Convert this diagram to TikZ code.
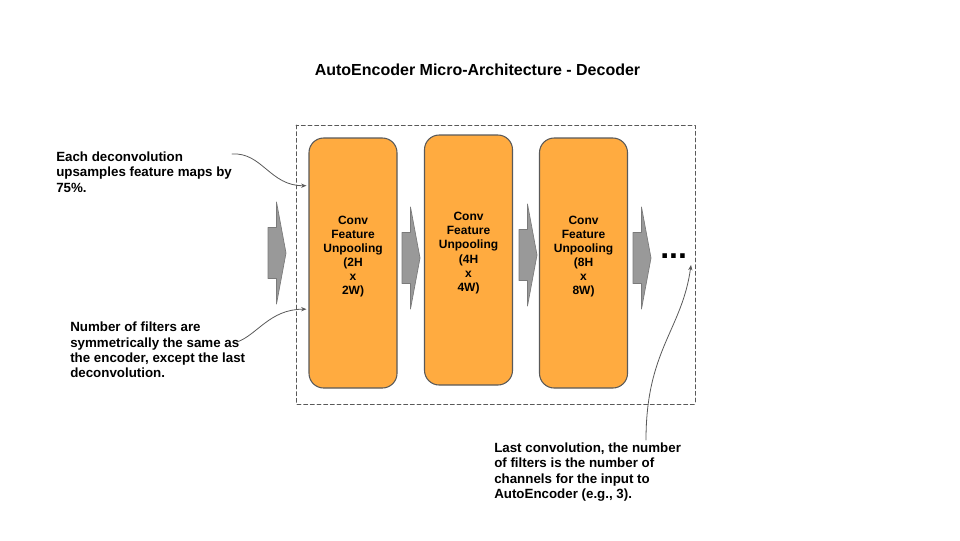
\documentclass[tikz,border=0pt]{standalone}
\usepackage{fontspec}
\setmainfont{Liberation Sans}
\usetikzlibrary{arrows.meta,calc}
\definecolor{unpoolorange}{HTML}{FFAB40}
\definecolor{edgegrey}{HTML}{595959}
\definecolor{flowgrey}{HTML}{999999}
\tikzset{
	unpoolbox/.style={draw=edgegrey,fill=unpoolorange,line width=0.8pt,rounded corners=11pt,
		minimum width=66pt,minimum height=187.5pt,inner sep=0pt},
	unpooltext/.style={align=center,inner sep=0pt,font=\bfseries\fontsize{9}{10.6}\selectfont},
	notetext/.style={align=left,inner sep=0pt,anchor=north west,font=\bfseries\fontsize{10}{11.5}\selectfont},
	notearrow/.style={draw=edgegrey,line width=0.6pt,-{Stealth[length=4pt,width=3.2pt]}}
}
\begin{document}
\begin{tikzpicture}[x=0.75pt,y=-0.75pt,line join=round,line cap=round]
	\useasboundingbox (0,0) rectangle (960,540);
	
	\node[font=\bfseries\fontsize{12}{14}\selectfont] (title) at (477.5,70) {AutoEncoder Micro-Architecture - Decoder};
	
	% frame round the decoder
	\draw[edgegrey,line width=0.6pt,dash pattern=on 3pt off 2pt] (296,125) rectangle (695,404);
	
	% unpooling layers
	\node[unpoolbox] (up1) at (353,263) {};
	\node[unpoolbox] (up2) at (468.5,260) {};
	\node[unpoolbox] (up3) at (583.5,263) {};
	\node[unpooltext] (lab1) at (353,256.5) {Conv\\Feature\\Unpooling\\(2H\\x\\2W)};
	\node[unpooltext] (lab2) at (468.5,253) {Conv\\Feature\\Unpooling\\(4H\\x\\4W)};
	\node[unpooltext] (lab3) at (583.5,256.5) {Conv\\Feature\\Unpooling\\(8H\\x\\8W)};
	
	% flow arrows
	\foreach \x/\y in {268/253, 402/258, 519/255, 633/258}
		\filldraw[fill=flowgrey,draw=edgegrey!80,line width=0.5pt]
			(\x,\y-25.5) -- (\x+8.5,\y-25.5) -- (\x+8.5,\y-51) -- (\x+18,\y)
			-- (\x+8.5,\y+51) -- (\x+8.5,\y+25.5) -- (\x,\y+25.5) -- cycle;
	
	\node[anchor=base west,inner sep=0pt,font=\bfseries\fontsize{24}{28}\selectfont] (dots) at (660,258) {...};
	
	% notes
	\node[notetext] (note1) at (56,151.5) {Each deconvolution\\upsamples feature maps by\\75\%.};
	\node[notetext] (note2) at (70,322) {Number of filters are\\symmetrically the same as\\the encoder, except the last\\deconvolution.};
	\node[notetext] (note3) at (494,442.5) {Last convolution, the number\\of filters is the number of\\channels for the input to\\AutoEncoder (e.g., 3).};
	
	\coordinate (n1) at (232,154);
	\coordinate (n2) at (237,342);
	\coordinate (n3) at (646,440);
	\coordinate (d3) at (691,265);
	\coordinate (b1) at ($(up1.north west)!0.192!(up1.south west)+(-2,0)$);
	\coordinate (b2) at ($(up1.north west)!0.684!(up1.south west)+(-2,0)$);
	
	\draw[notearrow] (n1) .. controls (262,152) and (270,186) .. (b1);
	\draw[notearrow] (n2) .. controls (257,335) and (270,309) .. (b2);
	\draw[notearrow] (n3) .. controls (646,350) and (682,330) .. (d3);
\end{tikzpicture}
\end{document}
